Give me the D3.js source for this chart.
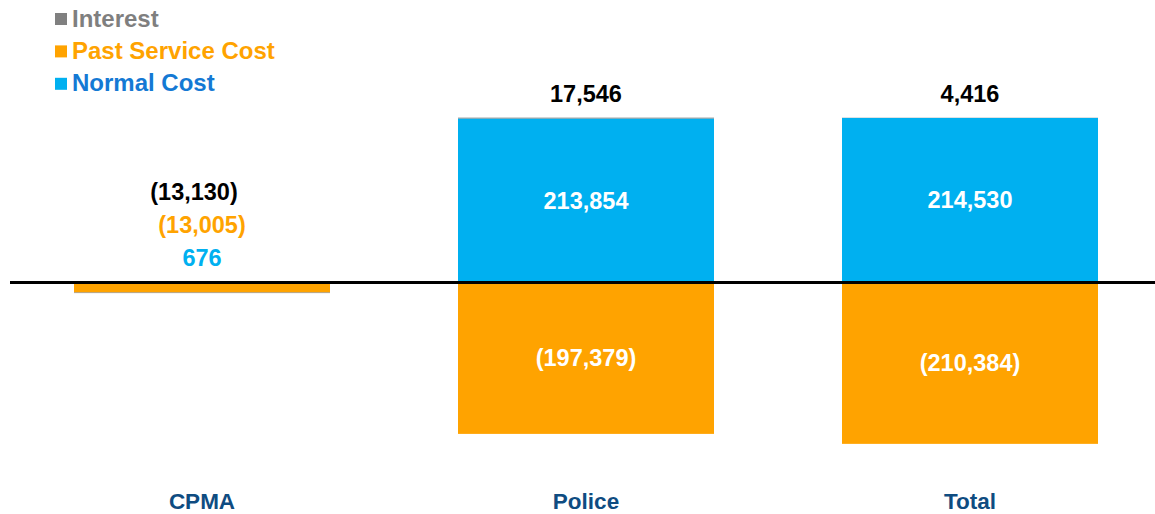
<!DOCTYPE html>
<html>
<head>
<meta charset="utf-8">
<script src="https://cdn.jsdelivr.net/npm/d3@7"></script>
<style>
  html, body { margin: 0; padding: 0; background: #fff; }
  svg { display: block; font-family: "Liberation Sans", Arial, Helvetica, sans-serif; font-weight: bold; }
</style>
</head>
<body>
<svg id="chart" width="1155" height="514"></svg>
<script>
// ---- data ----
const categories = ["CPMA", "Police", "Total"];
const seriesNames = ["Normal Cost", "Past Service Cost", "Interest"];
const normalCost = [676, 213854, 214530];
const pastServiceCost = [-13005, -197379, -210384];
const interest = [-801, 1071, 270];
const totals = [-13130, 17546, 4416];
const legendOrder = ["Interest", "Past Service Cost", "Normal Cost"];

// ---- styles ----
const fillColor = { "Normal Cost": "#00B0F0", "Past Service Cost": "#FFA300", "Interest": "#808080" };
const legendTextColor = { "Normal Cost": "#1479D4", "Past Service Cost": "#FFA300", "Interest": "#7F7F7F" };
const outsideLabelColor = { "Normal Cost": "#00B0F0", "Past Service Cost": "#FFA300" };

const svg = d3.select("#chart");
const W = 1155;

const x = d3.scaleBand().domain(categories).range([10, 1162]).paddingInner(1/3).paddingOuter(1/6);
const y = d3.scaleLinear().domain([-250000, 250000]).range([474.25, 90.75]);

const valuesBySeries = {
  "Normal Cost": normalCost,
  "Past Service Cost": pastServiceCost,
  "Interest": interest
};

const fmt = v => v < 0 ? "(" + d3.format(",")(-v) + ")" : d3.format(",")(v);

// build stacked segments (positives stack upward, negatives downward)
const segments = [];
const posTop = [];
categories.forEach((c, i) => {
  let pos = 0, neg = 0;
  seriesNames.forEach(s => {
    const v = valuesBySeries[s][i];
    let y0, y1;
    if (v >= 0) { y0 = pos; y1 = pos + v; pos = y1; }
    else { y0 = neg; y1 = neg + v; neg = y1; }
    segments.push({ cat: c, i, series: s, value: v, y0, y1 });
  });
  posTop.push(pos);
});

// bars
svg.append("g").selectAll("rect").data(segments).join("rect")
  .attr("x", d => x(d.cat))
  .attr("width", x.bandwidth())
  .attr("y", d => Math.min(y(d.y0), y(d.y1)))
  .attr("height", d => Math.abs(y(d.y0) - y(d.y1)))
  .attr("fill", d => fillColor[d.series]);

// zero line
svg.append("line")
  .attr("x1", 10).attr("x2", W)
  .attr("y1", y(0)).attr("y2", y(0))
  .attr("stroke", "#000").attr("stroke-width", 3);

// labels
const labelG = svg.append("g").attr("font-size", 23.5).attr("text-anchor", "middle");
const outsideCount = categories.map(() => 0);
const outsideStep = 33;
const outsideFirst = 24;

segments.forEach(d => {
  if (d.series === "Interest") return;
  const h = Math.abs(y(d.y0) - y(d.y1));
  const cx = x(d.cat) + x.bandwidth() / 2;
  if (h > 30) {
    labelG.append("text")
      .attr("x", cx)
      .attr("y", (y(d.y0) + y(d.y1)) / 2)
      .attr("dy", "0.35em")
      .attr("fill", "#fff")
      .text(fmt(d.value));
  } else {
    const k = outsideCount[d.i]++;
    labelG.append("text")
      .attr("x", cx)
      .attr("y", y(posTop[d.i]) - outsideFirst - k * outsideStep)
      .attr("dy", "0.35em")
      .attr("fill", outsideLabelColor[d.series])
      .text(fmt(d.value));
  }
});

categories.forEach((c, i) => {
  const k = outsideCount[i];
  labelG.append("text")
    .attr("x", x(c) + x.bandwidth() / 2 - (k > 0 ? 8 : 0))
    .attr("y", y(posTop[i]) - outsideFirst - k * outsideStep)
    .attr("dy", "0.35em")
    .attr("fill", "#000")
    .text(fmt(totals[i]));
});

// category axis labels
svg.append("g").selectAll("text").data(categories).join("text")
  .attr("x", d => x(d) + x.bandwidth() / 2)
  .attr("y", 509)
  .attr("text-anchor", "middle")
  .attr("font-size", 22.5)
  .attr("fill", "#0F4C81")
  .text(d => d);

// legend
const lg = svg.append("g");
legendOrder.forEach((s, i) => {
  const by = 26.5 + i * 32.4;
  lg.append("rect")
    .attr("x", 55).attr("y", by - 13.5)
    .attr("width", 12).attr("height", 12)
    .attr("fill", fillColor[s]);
  lg.append("text")
    .attr("x", 72).attr("y", by)
    .attr("font-size", 24)
    .attr("fill", legendTextColor[s])
    .text(s);
});
</script>
</body>
</html>
